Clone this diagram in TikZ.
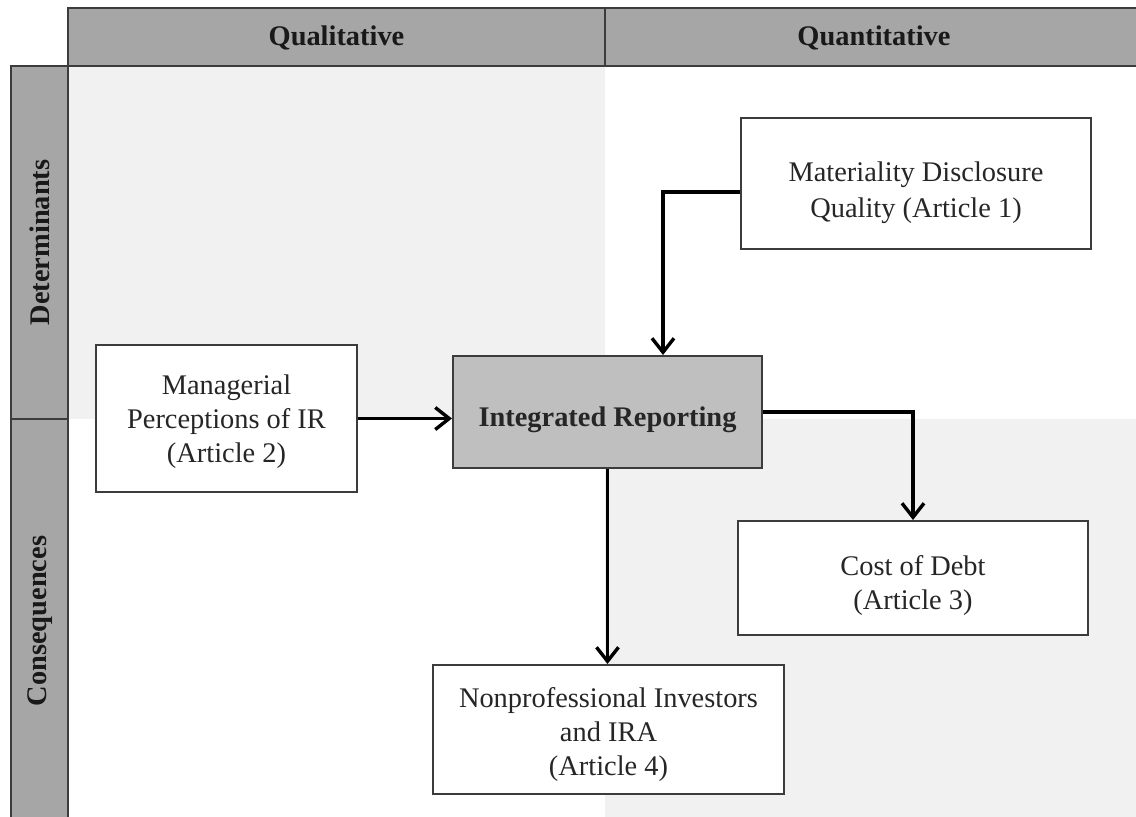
\documentclass[tikz,border=0pt]{standalone}
\usepackage{fontspec}
\setmainfont{Liberation Serif}
\usetikzlibrary{arrows.meta}
\definecolor{frameline}{HTML}{3C3C3C}
\definecolor{headfill}{HTML}{A6A6A6}
\definecolor{quadfill}{HTML}{F1F1F1}
\definecolor{corefill}{HTML}{BFBFBF}
% invisible strut that lowers the text inside a box
\newcommand\textlift[1]{\rule{0pt}{#1}}
\begin{document}
\begin{tikzpicture}[x=0.5pt,y=-0.5pt,
  headbar/.style={draw=frameline,line width=1.1pt,fill=headfill},
  headtext/.style={font=\fontsize{14.2}{17}\selectfont\bfseries,text=black!90},
  article/.style={draw=frameline,line width=1pt,fill=white,align=center,
    font=\fontsize{14.2}{17}\selectfont,text=black!85,inner sep=0pt},
  core/.style={article,fill=corefill,font=\fontsize{14.2}{17}\selectfont\bfseries},
  link/.style={line width=1.7pt,-{Straight Barb[length=7pt,width=11pt,line width=1.7pt]}}]
\clip (0,0) rectangle (1136,816);
% quadrant shading
\fill[white] (0,0) rectangle (1136,816);
\fill[quadfill] (68,66) rectangle (605,419);
\fill[quadfill] (605,419) rectangle (1140,820);
% column headers
\draw[headbar] (68,8) rectangle (605,66);
\draw[headbar] (605,8) rectangle (1150,66);
\node[headtext] (qual) at (336.5,38) {Qualitative};
\node[headtext] (quant) at (874,38) {Quantitative};
% row headers
\draw[headbar] (11,66) rectangle (68,419);
\draw[headbar] (11,419) rectangle (68,830);
\node[headtext,rotate=90] (det) at (40,242.5) {Determinants};
\node[headtext,rotate=90] (cons) at (40,621) {Consequences};
% boxes
\node[article,minimum width=175pt,minimum height=65.5pt] (mat) at (916,183)
  {\textlift{20pt}Materiality Disclosure\\[1pt]Quality (Article 1)};
\node[article,minimum width=130.5pt,minimum height=73.5pt] (mgr) at (226.5,418.5)
  {\textlift{13pt}Managerial\\Perceptions of IR\\(Article 2)};
\node[core,minimum width=154.5pt,minimum height=56pt] (ir) at (607.5,412)
  {\textlift{17.5pt}Integrated Reporting};
\node[article,minimum width=175pt,minimum height=57pt] (debt) at (913,578)
  {\textlift{18pt}Cost of Debt\\(Article 3)};
\node[article,minimum width=175.5pt,minimum height=64.5pt] (inv) at (608.5,729.5)
  {\textlift{15pt}Nonprofessional Investors\\and IRA\\(Article 4)};
% connectors
\draw[link] ([yshift=-4.5pt]mat.west) -| ([xshift=27.75pt]ir.north);
\draw[link] (mgr.east) -- (mgr.east -| ir.west);
\draw[link] (ir.east) -| (debt.north);
\draw[link] (ir.south) -- (ir.south |- inv.north);
\end{tikzpicture}
\end{document}
